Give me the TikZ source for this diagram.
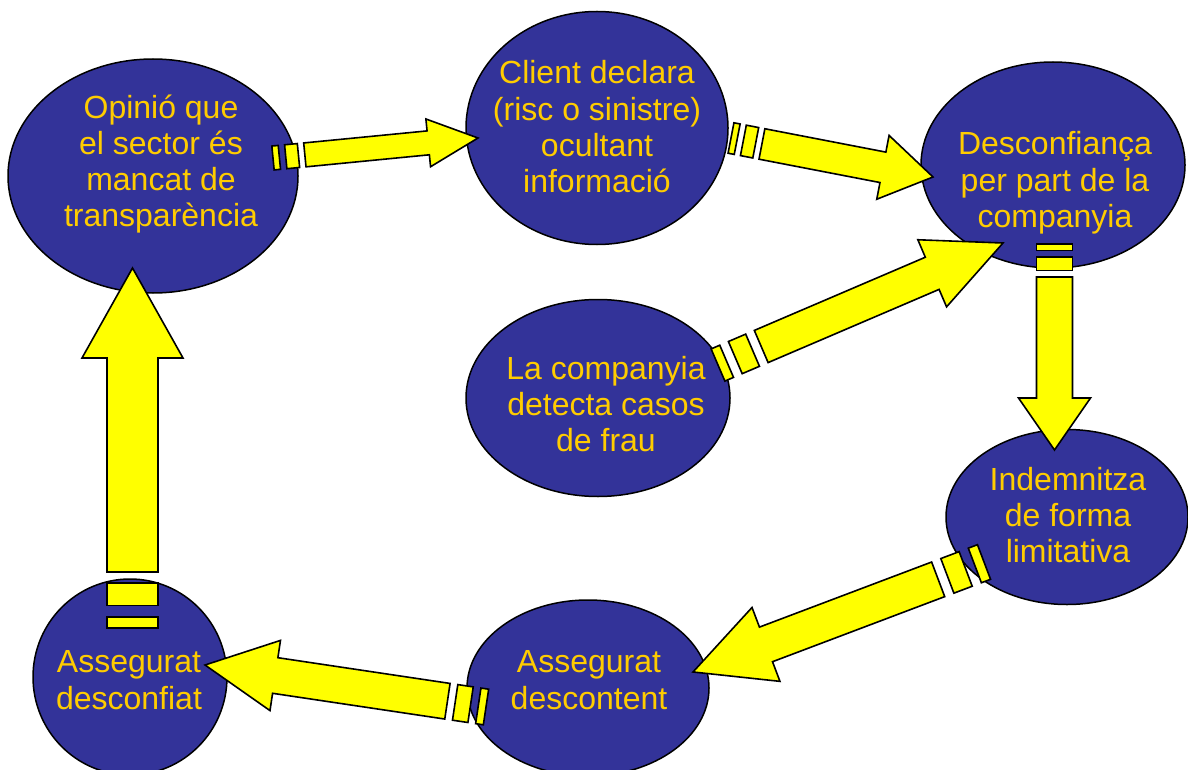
\documentclass[tikz,border=0pt]{standalone}
\usepackage{fontspec}
\setmainfont{Liberation Sans}
\usetikzlibrary{shapes.geometric,calc}
\definecolor{bubblefill}{HTML}{333399}
\definecolor{labeltext}{HTML}{FFCC00}
\definecolor{arrowfill}{HTML}{FFFF00}

\tikzset{
  bubble/.style={ellipse, draw=black, line width=1.5pt, fill=bubblefill, inner sep=0pt},
  bubbletext/.style={text=labeltext, align=center, inner sep=0pt,
    font=\fontsize{32}{36.3}\selectfont},
  stripe/.style={draw=black, fill=arrowfill, line width=1.6pt, line join=miter},
}

% Striped block arrow from coordinate #1 (outer end of the stripes) to #2 (tip).
% #3 shaft width, #4 head width, #5 head length, #6 stripe unit (all in pt).
\newcommand\stripedarrow[6]{%
  \path let \p1=(#1), \p2=(#2) in
    \pgfextra{%
      \pgfmathparse{atan2(\y2-\y1,\x2-\x1)}\xdef\saAng{\pgfmathresult}%
      \pgfmathparse{veclen(\x2-\x1,\y2-\y1)}\xdef\saLen{\pgfmathresult}%
    };
  \pgfmathsetmacro\saW{#3/2}%
  \pgfmathsetmacro\saH{#4/2}%
  \pgfmathsetmacro\saB{\saLen-#5}%
  \pgfmathsetmacro\saS{#6}%
  \begin{scope}[shift={(#1)}, rotate=\saAng]
    \draw[stripe] (0pt,-\saW pt) rectangle ({\saS pt},\saW pt);
    \draw[stripe] ({2*\saS pt},-\saW pt) rectangle ({4*\saS pt},\saW pt);
    \draw[stripe] ({5*\saS pt},-\saW pt) -- (\saB pt,-\saW pt) -- (\saB pt,-\saH pt)
      -- (\saLen pt,0pt) -- (\saB pt,\saH pt) -- (\saB pt,\saW pt)
      -- ({5*\saS pt},\saW pt) -- cycle;
  \end{scope}}

\begin{document}
\begin{tikzpicture}[x=1pt, y=-1pt]
  \useasboundingbox (0,0) rectangle (1188,770);
  \fill[white] (0,0) rectangle (1188,770);

  % bubbles
  \node[bubble, minimum width=290pt, minimum height=234pt] (opinio)  at (153,176) {};
  \node[bubble, minimum width=262pt, minimum height=233pt] (client)  at (597,128) {};
  \node[bubble, minimum width=264pt, minimum height=206pt] (desconf) at (1053,165) {};
  \node[bubble, minimum width=264pt, minimum height=197pt] (frau)    at (598,398) {};
  \node[bubble, minimum width=242pt, minimum height=175pt] (indem)   at (1067,517) {};
  \node[bubble, minimum width=242pt, minimum height=176pt] (descont) at (588,688) {};
  \node[bubble, minimum width=194pt, minimum height=196pt] (desconfiat) at (130,677) {};

  % texts
  \node[bubbletext] (opinioT)  at (161,164) {Opinió que\\el sector és\\mancat de\\transparència};
  \node[bubbletext] (clientT)  at (597,127) {Client declara\\(risc o sinistre)\\ocultant\\informació};
  \node[bubbletext] (desconfT) at (1055,183) {Desconfiança\\per part de la\\companyia};
  \node[bubbletext] (frauT)    at (606,404) {La companyia\\detecta casos\\de frau};
  \node[bubbletext] (indemT)   at (1068,515) {Indemnitza\\de forma\\limitativa};
  \node[bubbletext] (descontT) at (589,680) {Assegurat\\descontent};
  \node[bubbletext] (desconfiatT) at (129,680) {Assegurat\\desconfiat};

  % arrow end points
  \coordinate (a1t) at (273,158);    \coordinate (a1h) at (478,138);
  \coordinate (a2t) at (731,138);    \coordinate (a2h) at (933,177);
  \coordinate (a3t) at (718,365);    \coordinate (a3h) at (1003,243);
  \coordinate (a4t) at (1054.5,244); \coordinate (a4h) at (1054.5,450);
  \coordinate (a5t) at (984,562);    \coordinate (a5h) at (693,672);
  \coordinate (a6t) at (486,707);    \coordinate (a6h) at (205,665);
  \coordinate (a7t) at (132.5,628);  \coordinate (a7h) at (132.5,268);

  % arrows
  \stripedarrow{a1t}{a1h}{24}{48}{50}{6.4}
  \stripedarrow{a2t}{a2h}{31}{65}{51}{6.3}
  \stripedarrow{a3t}{a3h}{35}{73}{77}{9.4}
  \stripedarrow{a4t}{a4h}{36}{72}{52}{6.6}
  \stripedarrow{a5t}{a5h}{37}{79}{78}{9.8}
  \stripedarrow{a6t}{a6h}{36}{71}{71}{7.8}
  \stripedarrow{a7t}{a7h}{51}{101}{90}{11.2}
\end{tikzpicture}
\end{document}
